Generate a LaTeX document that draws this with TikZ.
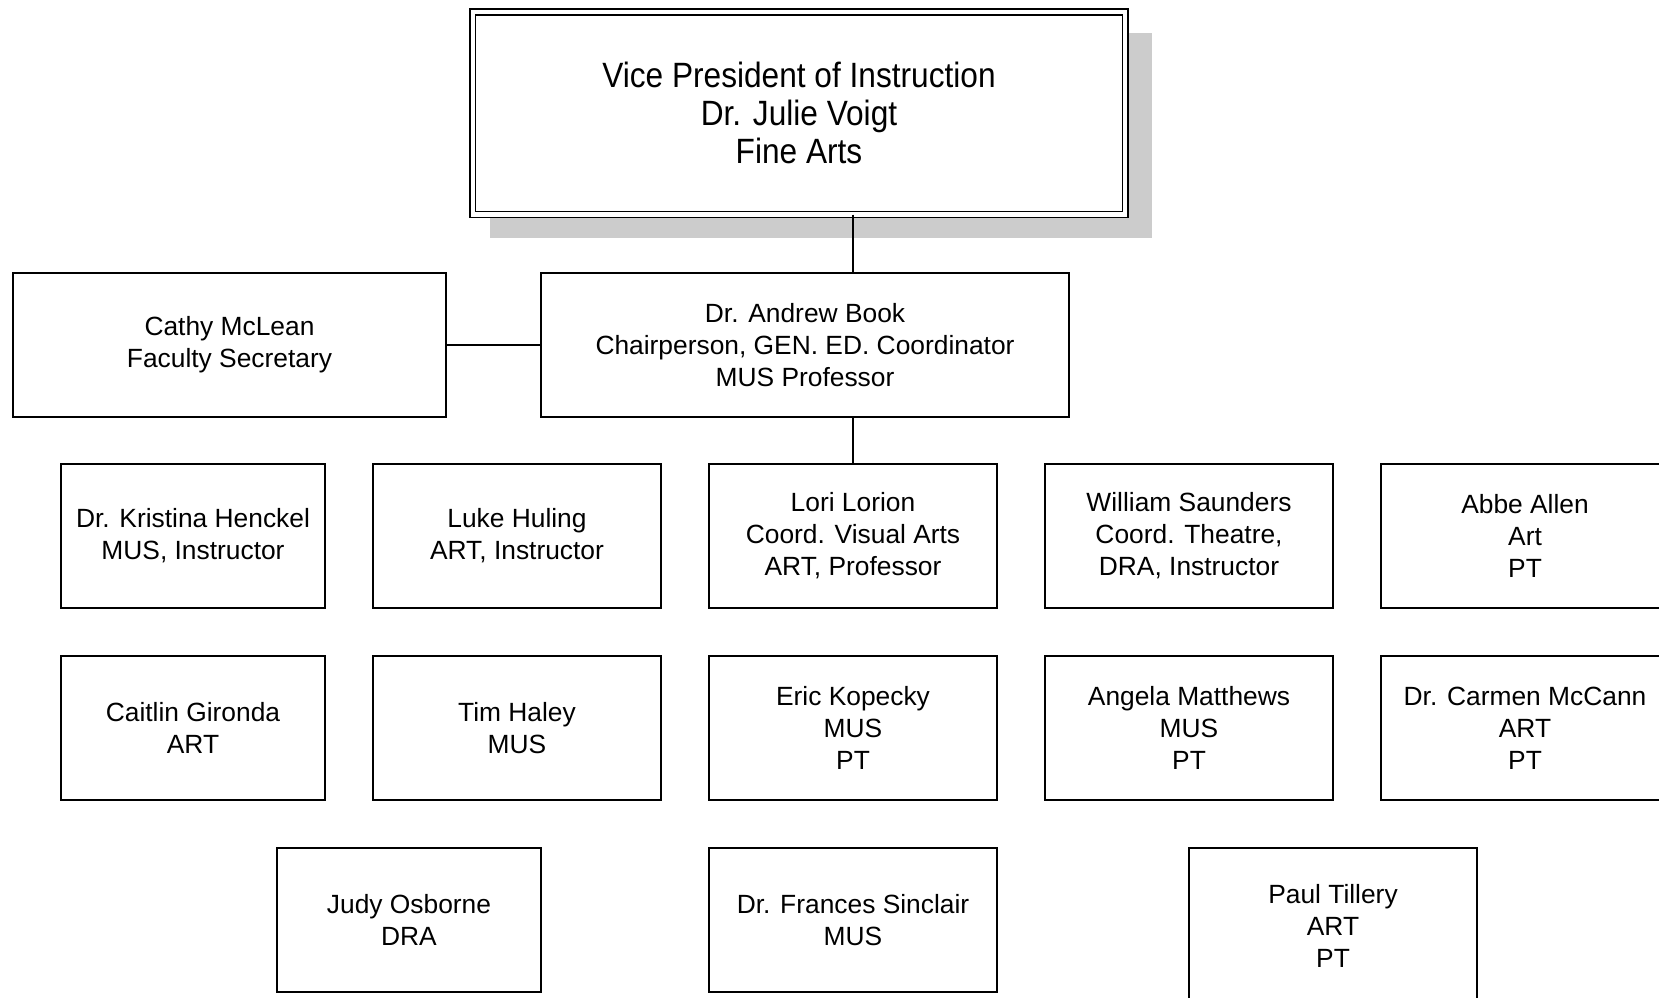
\documentclass[tikz,border=0pt]{standalone}
\usepackage{fontspec}
\setmainfont{Liberation Sans}
\newfontfamily\narrowfont[FakeStretch=0.9]{Liberation Sans}
\usepackage{tikz}
\usetikzlibrary{shapes, positioning, calc, shadows}
\colorlet{shadowgray}{black!20}

\begin{document}
\begin{tikzpicture}[staff/.style={rectangle, draw, line width=0.8pt, align=center, minimum width=5.76cm, minimum height=2.88cm, inner sep=0pt, outer sep=0pt, font=\fontsize{15}{18.2}\selectfont}, narrow/.style={staff, minimum width=5.28cm}, node distance=0.96cm]

\useasboundingbox (0,0) rectangle (33.18,-19.94);

% Chair and head

\node [staff] (lorion) at (17.06,-10.72) {Lori Lorion\\Coord. Visual Arts\\ART, Professor};
\node [staff, minimum width=10.56cm, above=0.94cm of lorion.north, anchor=south, xshift=-0.96cm] (book)
{Dr. Andrew Book\\Chairperson, GEN. ED. Coordinator\\MUS Professor};
\node [staff, minimum width=8.66cm, left=1.9cm of book] (mclean) {Cathy McLean\\Faculty Secretary};
\node [rectangle, draw, double, line width=0.8pt, double distance=2.4pt, align=center, minimum width=13.05cm, minimum height=4.05cm, outer sep=0pt, fill=white, drop shadow={shadow xshift=0.44cm, shadow yshift=-0.44cm, shadow scale=1.015, fill=shadowgray, opacity=1}, font=\narrowfont\fontsize{20}{21.6}\selectfont, above=1.17cm of book.north, anchor=south, xshift=-0.12cm] (voigt)
{Vice President of Instruction\\Dr. Julie Voigt\\Fine Arts};

% Faculty

\node [staff, left=of lorion] (huling) {Luke Huling\\ART, Instructor};
\node [narrow, left=of huling] (henckel) {Dr. Kristina Henckel\\MUS, Instructor};
\node [staff, right=of lorion] (saunders) {William Saunders\\Coord. Theatre,\\DRA, Instructor};
\node [staff, right=of saunders] (allen) {Abbe Allen\\Art\\PT};

\node [narrow, below=of henckel] (gironda) {Caitlin Gironda\\ART};
\node [staff, below=of huling] (haley) {Tim Haley\\MUS};
\node [staff, below=of lorion] (kopecky) {Eric Kopecky\\MUS\\PT};
\node [staff, below=of saunders] (matthews) {Angela Matthews\\MUS\\PT};
\node [staff, below=of allen] (mccann) {Dr. Carmen McCann\\ART\\PT};

\node [narrow, below=0.96cm of gironda.south east, anchor=north west, xshift=-0.96cm] (osborne) {Judy Osborne\\DRA};
\node [staff, below=of kopecky] (sinclair) {Dr. Frances Sinclair\\MUS};
\node [staff, minimum height=3.2cm, below=0.96cm of matthews.south, anchor=north west, text depth=0.1cm] (tillery) {Paul Tillery\\ART\\PT};

% Lines

\draw [line width=0.8pt] (voigt.south -| lorion) -- (book.north -| lorion);
\draw [line width=0.8pt] (book.south -| lorion) -- (lorion.north);
\draw [line width=0.8pt] (mclean.east) -- (book.west);

\end{tikzpicture}
\end{document}
